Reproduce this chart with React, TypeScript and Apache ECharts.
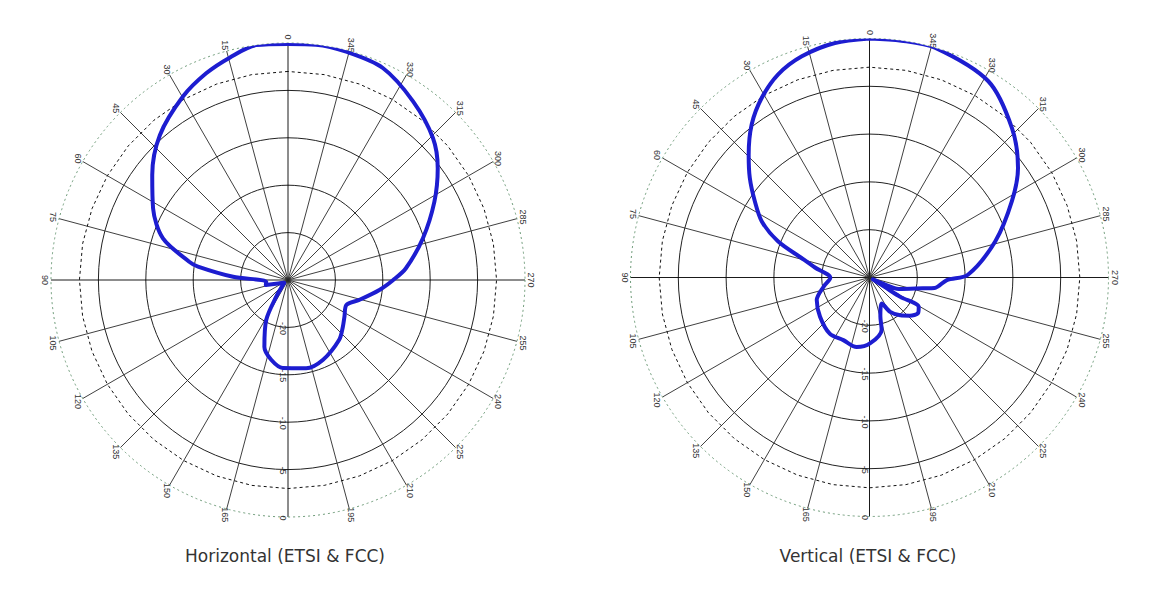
import React, { useEffect, useRef } from "react";
import * as echarts from "echarts";

// Angle tick labels (degrees) drawn around each plot
const ANGLE_LABELS = [0, 15, 30, 45, 60, 75, 90, 105, 120, 135, 150, 165, 195, 210, 225, 240, 255, 270, 285, 300, 315, 330, 345];
// Radial tick labels (dB)
const RADIAL_LABELS = [-20, -15, -10, -5, 0];
// -3 dB reference ring sample angles
const REF_ANGLES = [0, 10, 20, 30, 40, 50, 60, 70, 80, 90, 100, 110, 120, 130, 140, 150, 160, 170, 180, 190, 200, 210, 220, 230, 240, 250, 260, 270, 280, 290, 300, 310, 320, 330, 340, 350, 360];
const REF_DB = -3;

// Horizontal pattern (ETSI & FCC): angle (deg) and gain (dB), in drawing order
const H_ANGLE = [0, 7.7, 14.7, 21.6, 29.8, 41.5, 52.3, 62.1, 71.6, 79.5, 81.5, 86.6, 94.5, 102.9, 127, 144.8, 151.4, 160.6, 168.1, 176.6, 191.6, 203.5, 220.6, 229.6, 237, 246.8, 254.4, 263.8, 270, 275.7, 287.2, 298.1, 306.7, 314.4, 325, 335.9, 345.7, 353.2, 360];
const H_DB = [-0.1, 0, -0.75, -1.55, -2.7, -4.6, -6.9, -8.9, -11.1, -14.4, -15.4, -19.2, -22.7, -22.6, -24.5, -22.85, -20.2, -17.5, -16.4, -15.7, -15.5, -15.8, -16.7, -17.4, -17.9, -18.3, -17.2, -15.3, -13.9, -12.5, -10.1, -7.5, -5.3, -3.6, -2.0, -0.5, -0.15, 0, -0.1];

// Vertical pattern (ETSI & FCC)
const V_ANGLE = [0, 8.4, 17, 24.2, 31, 37.6, 44.6, 50.2, 56.4, 62.5, 68.4, 74, 79.6, 90.5, 101.3, 113.1, 128.4, 144.7, 157.3, 169.5, 180.4, 193.1, 195.7, 205.3, 211, 219.1, 226.5, 233.7, 239.1, 237.8, 237.9, 241, 245, 248.8, 258.6, 260.9, 268.1, 271.6, 286.1, 298.2, 306.4, 316.4, 328.8, 344.1, 352.3, 360];
const V_DB = [0, -0.2, -0.8, -1.7, -3.1, -4.8, -7.0, -8.7, -10.6, -12.3, -14.7, -17.6, -19.2, -20.9, -20.1, -19.0, -18.4, -17.8, -17.9, -17.6, -18.1, -19.4, -20.8, -22.0, -20.8, -19.9, -19.2, -18.7, -19.0, -21.2, -22.9, -24.6, -23.6, -21.7, -19.3, -18.1, -16.9, -14.7, -11.3, -8.1, -5.7, -3.4, -1.0, 0, 0, 0];

const TITLES = ["Horizontal (ETSI & FCC)", "Vertical (ETSI & FCC)"];

const PLOTS = [
  { center: [288, 280], radius: 237, titleX: 285 },
  { center: [869.5, 277.5], radius: 239, titleX: 868 },
];

const CURVE_COLOR = "#1d1dd0";

export default function App() {
  const ref = useRef<HTMLDivElement>(null);

  useEffect(() => {
    if (!ref.current) return;
    const chart = echarts.init(ref.current, undefined, { renderer: "svg" });

    const spokeColors = ["#000", "#2a2a2a", "#2a2a2a", "#2a2a2a", "#2a2a2a", "#2a2a2a"];
    const ringColors = ["#222", "#222", "#222", "#222", "#222", "rgba(0,0,0,0)"];

    const option: any = {
      animation: false,
      polar: PLOTS.map((p) => ({ center: p.center, radius: p.radius })),
      angleAxis: PLOTS.map((_, i) => ({
        polarIndex: i,
        type: "value",
        min: 0,
        max: 360,
        interval: 15,
        startAngle: 90,
        clockwise: false,
        axisLine: { show: true, lineStyle: { color: "#6f9c7a", width: 1, type: [2, 3] } },
        axisTick: { show: false },
        axisLabel: { show: false },
        splitLine: { show: true, lineStyle: { color: spokeColors, width: 0.9 } },
      })),
      radiusAxis: PLOTS.map((_, i) => ({
        polarIndex: i,
        type: "value",
        min: -25,
        max: 0,
        interval: 5,
        axisLine: { show: false },
        axisTick: { show: false },
        axisLabel: { show: false },
        splitLine: { show: true, lineStyle: { color: ringColors, width: 1 } },
      })),
      series: [
        ...PLOTS.map((_, i) => ({
          type: "line",
          coordinateSystem: "polar",
          polarIndex: i,
          data: REF_ANGLES.map((a) => [REF_DB, a]),
          showSymbol: false,
          silent: true,
          lineStyle: { color: "#111", width: 1, type: [3, 3] },
          z: 2,
        })),
        {
          type: "line",
          name: TITLES[0],
          coordinateSystem: "polar",
          polarIndex: 0,
          data: H_ANGLE.map((a, k) => [H_DB[k], a]),
          showSymbol: false,
          smooth: 0.3,
          lineStyle: { color: CURVE_COLOR, width: 4, join: "round", cap: "round" },
          z: 5,
        },
        {
          type: "line",
          name: TITLES[1],
          coordinateSystem: "polar",
          polarIndex: 1,
          data: V_ANGLE.map((a, k) => [V_DB[k], a]),
          showSymbol: false,
          smooth: 0.3,
          lineStyle: { color: CURVE_COLOR, width: 4, join: "round", cap: "round" },
          z: 5,
        },
      ],
    };
    chart.setOption(option);

    const graphics: any[] = [];
    PLOTS.forEach((p, i) => {
      const toPx = (r: number, a: number): number[] => {
        let pt: any = null;
        try {
          pt = chart.convertToPixel({ polarIndex: i } as any, [r, a]);
        } catch (e) {
          pt = null;
        }
        if (!pt || isNaN(pt[0])) {
          const rr = ((r + 25) / 25) * p.radius;
          const rad = (a * Math.PI) / 180;
          pt = [p.center[0] - rr * Math.sin(rad), p.center[1] - rr * Math.cos(rad)];
        }
        return pt;
      };
      const c = toPx(-25, 0);
      ANGLE_LABELS.forEach((a) => {
        const o = toPx(0, a);
        const dx = o[0] - c[0];
        const dy = o[1] - c[1];
        const len = Math.sqrt(dx * dx + dy * dy) || 1;
        const off = 6;
        graphics.push({
          type: "text",
          x: o[0] + (dx / len) * off,
          y: o[1] + (dy / len) * off,
          rotation: -Math.PI / 2,
          silent: true,
          style: {
            text: String(a),
            font: '9px "Liberation Sans", Arial, sans-serif',
            fill: "#333",
            textAlign: "center",
            textVerticalAlign: "middle",
          },
        });
      });
      RADIAL_LABELS.forEach((v) => {
        const o = toPx(v, 180);
        graphics.push({
          type: "text",
          x: o[0] - 5,
          y: o[1] + 1,
          rotation: -Math.PI / 2,
          silent: true,
          z: 1,
          style: {
            text: String(v),
            font: '9px "Liberation Sans", Arial, sans-serif',
            fill: "#333",
            textAlign: "center",
            textVerticalAlign: "middle",
          },
        });
      });
      graphics.push({
        type: "text",
        x: p.titleX,
        y: 556,
        silent: true,
        style: {
          text: TITLES[i],
          font: '17px "DejaVu Sans", sans-serif',
          fill: "#333",
          textAlign: "center",
          textVerticalAlign: "middle",
        },
      });
    });
    chart.setOption({ graphic: graphics });

    return () => {
      chart.dispose();
    };
  }, []);

  return (
    <div
      ref={ref}
      style={{ position: "absolute", left: 0, top: 0, width: 1166, height: 591, background: "#fff" }}
    />
  );
}
